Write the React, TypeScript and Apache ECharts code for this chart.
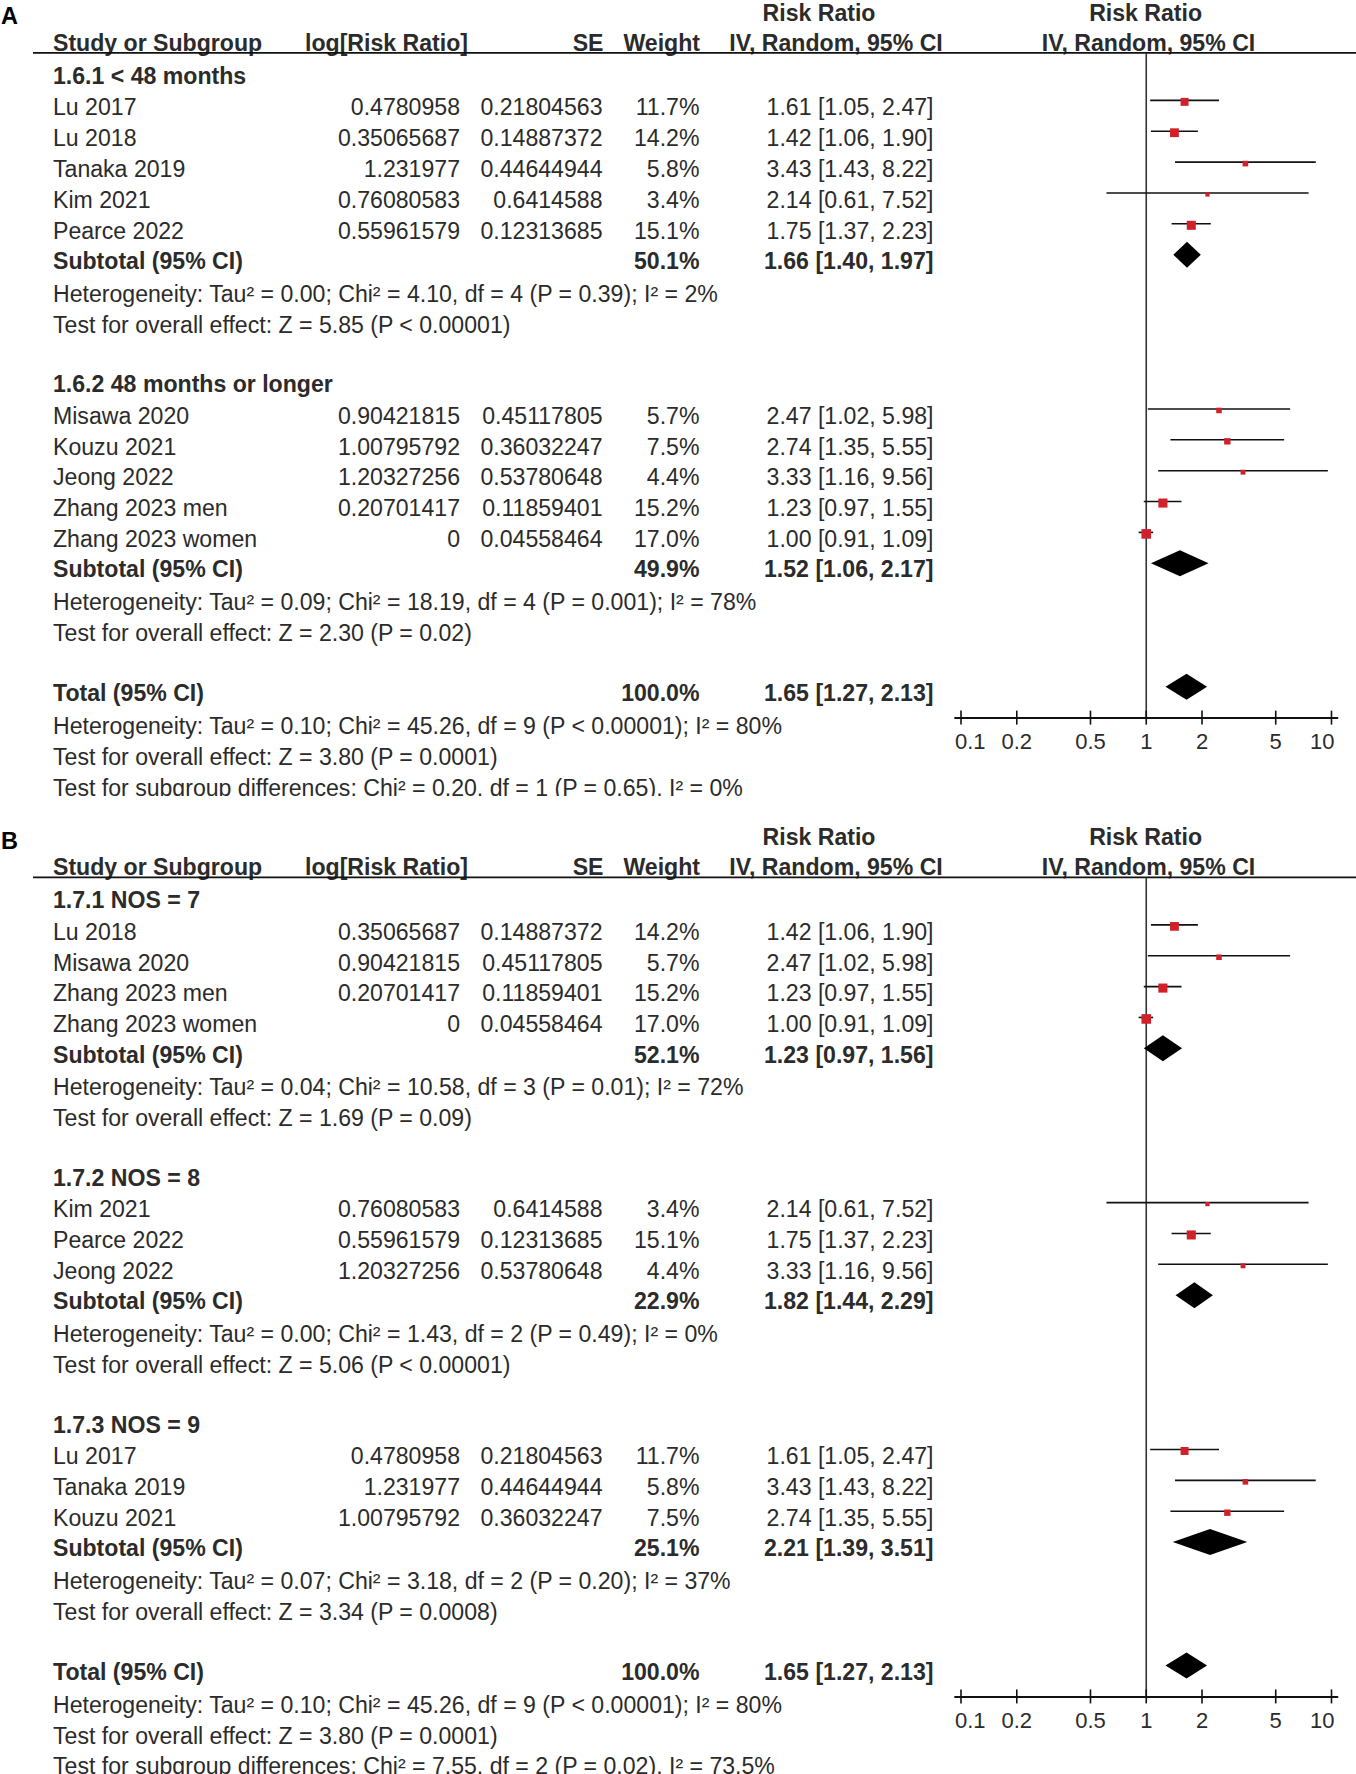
import React, { useEffect, useRef } from "react";
import * as echarts from "echarts";

// ---------- data ----------
const studyNames = [
  "Lu 2017", "Lu 2018", "Tanaka 2019", "Kim 2021", "Pearce 2022",
  "Misawa 2020", "Kouzu 2021", "Jeong 2022", "Zhang 2023 men", "Zhang 2023 women",
];
const logRRText = [
  "0.4780958", "0.35065687", "1.231977", "0.76080583", "0.55961579",
  "0.90421815", "1.00795792", "1.20327256", "0.20701417", "0",
];
const seText = [
  "0.21804563", "0.14887372", "0.44644944", "0.6414588", "0.12313685",
  "0.45117805", "0.36032247", "0.53780648", "0.11859401", "0.04558464",
];
const studyWeights = [11.7, 14.2, 5.8, 3.4, 15.1, 5.7, 7.5, 4.4, 15.2, 17.0];
const studyRR = [1.61, 1.42, 3.43, 2.14, 1.75, 2.47, 2.74, 3.33, 1.23, 1.0];
const studyLo = [1.05, 1.06, 1.43, 0.61, 1.37, 1.02, 1.35, 1.16, 0.97, 0.91];
const studyHi = [2.47, 1.9, 8.22, 7.52, 2.23, 5.98, 5.55, 9.56, 1.55, 1.09];

// Panel A
const groupLabelsA = ["1.6.1 < 48 months", "1.6.2 48 months or longer"];
const groupMembersA = [[0, 1, 2, 3, 4], [5, 6, 7, 8, 9]];
const subWeightsA = [50.1, 49.9];
const subRRA = [1.66, 1.52];
const subLoA = [1.4, 1.06];
const subHiA = [1.97, 2.17];
const hetA = [
  "Heterogeneity: Tau² = 0.00; Chi² = 4.10, df = 4 (P = 0.39); I² = 2%",
  "Heterogeneity: Tau² = 0.09; Chi² = 18.19, df = 4 (P = 0.001); I² = 78%",
];
const testA = [
  "Test for overall effect: Z = 5.85 (P < 0.00001)",
  "Test for overall effect: Z = 2.30 (P = 0.02)",
];
const diffA = "Test for subgroup differences: Chi² = 0.20, df = 1 (P = 0.65), I² = 0%";

// Panel B
const groupLabelsB = ["1.7.1 NOS = 7", "1.7.2 NOS = 8", "1.7.3 NOS = 9"];
const groupMembersB = [[1, 5, 8, 9], [3, 4, 7], [0, 2, 6]];
const subWeightsB = [52.1, 22.9, 25.1];
const subRRB = [1.23, 1.82, 2.21];
const subLoB = [0.97, 1.44, 1.39];
const subHiB = [1.56, 2.29, 3.51];
const hetB = [
  "Heterogeneity: Tau² = 0.04; Chi² = 10.58, df = 3 (P = 0.01); I² = 72%",
  "Heterogeneity: Tau² = 0.00; Chi² = 1.43, df = 2 (P = 0.49); I² = 0%",
  "Heterogeneity: Tau² = 0.07; Chi² = 3.18, df = 2 (P = 0.20); I² = 37%",
];
const testB = [
  "Test for overall effect: Z = 1.69 (P = 0.09)",
  "Test for overall effect: Z = 5.06 (P < 0.00001)",
  "Test for overall effect: Z = 3.34 (P = 0.0008)",
];
const diffB = "Test for subgroup differences: Chi² = 7.55, df = 2 (P = 0.02), I² = 73.5%";

// Overall
const totalWeight = 100.0;
const totalRR = 1.65;
const totalLo = 1.27;
const totalHi = 2.13;
const totalHet = "Heterogeneity: Tau² = 0.10; Chi² = 45.26, df = 9 (P < 0.00001); I² = 80%";
const totalTest = "Test for overall effect: Z = 3.80 (P = 0.0001)";

// Axis ticks
const tickValues = [0.1, 0.2, 0.5, 1, 2, 5, 10];
const tickLabels = ["0.1", "0.2", "0.5", "1", "2", "5", "10"];

// ---------- layout / style ----------
const FONT = '"Liberation Sans", Arial, Helvetica, sans-serif';
const FS = 23.1;
const TEXT = "#2b2b2b";
const RED = "#d0202a";
const PITCH = 30.86;
const Y_MIN = -0.7;
const AXIS_BELOW = 0.84;
const X_LEFT = 955;
const X_RIGHT = 1337.5;
const PAD_DEC = 6 / 185;
const X_MIN = Math.pow(10, -1 - PAD_DEC);
const X_MAX = Math.pow(10, 1 + PAD_DEC);
// vertical text nudges (px) by row kind
const NUDGE: Record<string, number> = { group: 1.2, subtotal: 1.2, total: 1.2, study: 1.8, note: 3.3 };

const COL = {
  name: 53,
  logR: 460,
  seR: 602.5,
  wR: 699.5,
  ciR: 933.5,
  logHeadL: 305,
  seHeadR: 603.5,
  wHeadR: 700,
  rrHeadC: 819,
  ivHeadC: 836,
  plotHead1C: 1145.6,
  plotHead2C: 1148.5,
};

type Row = {
  kind: "group" | "study" | "subtotal" | "note" | "total" | "blank";
  text?: string;
  study?: number;
  w?: number;
  rr?: number;
  lo?: number;
  hi?: number;
};

function buildRows(
  labels: string[], members: number[][], sw: number[], srr: number[], slo: number[], shi: number[],
  het: string[], test: string[], diff: string
): Row[] {
  const rows: Row[] = [];
  labels.forEach((lab, g) => {
    if (g > 0) rows.push({ kind: "blank" });
    rows.push({ kind: "group", text: lab });
    members[g].forEach((s) => rows.push({ kind: "study", study: s }));
    rows.push({ kind: "subtotal", w: sw[g], rr: srr[g], lo: slo[g], hi: shi[g] });
    rows.push({ kind: "note", text: het[g] });
    rows.push({ kind: "note", text: test[g] });
  });
  rows.push({ kind: "blank" });
  rows.push({ kind: "total", w: totalWeight, rr: totalRR, lo: totalLo, hi: totalHi });
  rows.push({ kind: "note", text: totalHet });
  rows.push({ kind: "note", text: totalTest });
  rows.push({ kind: "note", text: diff });
  return rows;
}

const ci = (rr: number, lo: number, hi: number) => `${rr.toFixed(2)} [${lo.toFixed(2)}, ${hi.toFixed(2)}]`;
const pct = (w: number) => `${w.toFixed(1)}%`;

function txt(x: number, y: number, text: string, align: string, bold: boolean, size = FS, color = TEXT) {
  return {
    type: "text",
    x,
    y,
    style: {
      text,
      fill: color,
      fontSize: size,
      fontFamily: FONT,
      fontWeight: bold ? "bold" : "normal",
      align,
      verticalAlign: "middle",
    },
  };
}

function buildPanel(idx: number, label: string, rows: Row[], row0: number) {
  const totalRow = rows.findIndex((r) => r.kind === "total");
  const yMax = totalRow + AXIS_BELOW;
  const top = row0 + Y_MIN * PITCH;
  const height = (yMax - Y_MIN) * PITCH;

  const grid = { left: X_LEFT, top, width: X_RIGHT - X_LEFT, height };
  const xAxis = {
    type: "log",
    logBase: 10,
    gridIndex: idx,
    min: X_MIN,
    max: X_MAX,
    axisLine: { show: true, onZero: false, lineStyle: { color: "#111", width: 1.8 } },
    axisTick: { show: false },
    axisLabel: { show: false },
    splitLine: { show: false },
  };
  const yAxis = {
    type: "value",
    gridIndex: idx,
    inverse: true,
    min: Y_MIN,
    max: yMax,
    show: false,
    splitLine: { show: false },
  };

  type Item = { kind: string; y: number; row?: Row };
  const items: Item[] = [
    { kind: "panel", y: -1.89 },
    { kind: "head1", y: -2 },
    { kind: "head2", y: -1.03 },
    ...rows.map((r, i) => ({ kind: r.kind, y: i, row: r })),
  ];

  const textSeries = {
    type: "custom",
    coordinateSystem: "cartesian2d",
    xAxisIndex: idx,
    yAxisIndex: idx,
    clip: false,
    silent: true,
    data: items.map((it) => [1, it.y]),
    renderItem: (params: any, api: any) => {
      const it = items[params.dataIndex];
      const y = api.coord([1, api.value(1)])[1] + (NUDGE[it.kind] || 0);
      const ch: any[] = [];
      const r = it.row;
      switch (it.kind) {
        case "panel":
          ch.push(txt(1, y, label, "left", true, 23.5, "#000"));
          break;
        case "head1":
          ch.push(txt(COL.rrHeadC, y, "Risk Ratio", "center", true));
          ch.push(txt(COL.plotHead1C, y, "Risk Ratio", "center", true));
          break;
        case "head2":
          ch.push(txt(COL.name, y, "Study or Subgroup", "left", true));
          ch.push(txt(COL.logHeadL, y, "log[Risk Ratio]", "left", true));
          ch.push(txt(COL.seHeadR, y, "SE", "right", true));
          ch.push(txt(COL.wHeadR, y, "Weight", "right", true));
          ch.push(txt(COL.ivHeadC, y, "IV, Random, 95% CI", "center", true));
          ch.push(txt(COL.plotHead2C, y, "IV, Random, 95% CI", "center", true));
          break;
        case "group":
          ch.push(txt(COL.name, y, r!.text!, "left", true));
          break;
        case "study": {
          const s = r!.study!;
          ch.push(txt(COL.name, y, studyNames[s], "left", false));
          ch.push(txt(COL.logR, y, logRRText[s], "right", false));
          ch.push(txt(COL.seR, y, seText[s], "right", false));
          ch.push(txt(COL.wR, y, pct(studyWeights[s]), "right", false));
          ch.push(txt(COL.ciR, y, ci(studyRR[s], studyLo[s], studyHi[s]), "right", false));
          break;
        }
        case "subtotal":
        case "total":
          ch.push(txt(COL.name, y, it.kind === "total" ? "Total (95% CI)" : "Subtotal (95% CI)", "left", true));
          ch.push(txt(COL.wR, y, pct(r!.w!), "right", true));
          ch.push(txt(COL.ciR, y, ci(r!.rr!, r!.lo!, r!.hi!), "right", true));
          break;
        case "note":
          ch.push(txt(COL.name, y, r!.text!, "left", false));
          break;
      }
      return { type: "group", children: ch };
    },
  };

  // forest marks
  const marks: number[][] = [];
  rows.forEach((r, i) => {
    if (r.kind === "study") {
      const s = r.study!;
      marks.push([studyRR[s], i, studyLo[s], studyHi[s], studyWeights[s], 0]);
    } else if (r.kind === "subtotal" || r.kind === "total") {
      marks.push([r.rr!, i, r.lo!, r.hi!, r.w!, 1]);
    }
  });

  const forestSeries = {
    type: "custom",
    coordinateSystem: "cartesian2d",
    xAxisIndex: idx,
    yAxisIndex: idx,
    clip: false,
    silent: true,
    z: 5,
    data: marks,
    renderItem: (params: any, api: any) => {
      const row = api.value(1);
      const pc = api.coord([api.value(0), row]);
      const pl = api.coord([api.value(2), row]);
      const ph = api.coord([api.value(3), row]);
      const w = api.value(4);
      const dia = api.value(5);
      const yl = pc[1] - 5;
      if (dia) {
        return {
          type: "polygon",
          shape: { points: [[pl[0], yl], [pc[0], yl - 13], [ph[0], yl], [pc[0], yl + 13]] },
          style: { fill: "#000" },
        };
      }
      const s = 2.33 * Math.sqrt(w);
      return {
        type: "group",
        children: [
          { type: "line", shape: { x1: pl[0], y1: yl, x2: ph[0], y2: yl }, style: { stroke: "#111", lineWidth: 1.6 } },
          { type: "rect", shape: { x: pc[0] - s / 2, y: yl + 1.5 - s / 2, width: s, height: s }, style: { fill: RED } },
        ],
      };
    },
  };

  const axisSeries = {
    type: "custom",
    coordinateSystem: "cartesian2d",
    xAxisIndex: idx,
    yAxisIndex: idx,
    clip: false,
    silent: true,
    z: 4,
    data: [[1, Y_MIN]],
    renderItem: (params: any, api: any) => {
      const topY = api.coord([1, Y_MIN])[1];
      const botY = api.coord([1, yMax])[1];
      const x1 = api.coord([1, 0])[0];
      const ch: any[] = [
        { type: "line", shape: { x1: 33, y1: topY, x2: 1356, y2: topY }, style: { stroke: "#111", lineWidth: 1.6 } },
        { type: "line", shape: { x1, y1: topY, x2: x1, y2: botY }, style: { stroke: "#333", lineWidth: 1.6 } },
      ];
      tickValues.forEach((v, k) => {
        const x = api.coord([v, yMax])[0];
        ch.push({ type: "line", shape: { x1: x, y1: botY - 7, x2: x, y2: botY + 7 }, style: { stroke: "#111", lineWidth: 1.6 } });
        let align = "center";
        let lx = x;
        if (k === 0) { align = "left"; lx = x - 6; }
        if (k === tickValues.length - 1) { align = "right"; lx = x + 3; }
        ch.push(txt(lx, botY + 24, tickLabels[k], align, false, 22));
      });
      return { type: "group", children: ch };
    },
  };

  return { grid, xAxis, yAxis, series: [axisSeries, forestSeries, textSeries] };
}

function buildOption() {
  const rowsA = buildRows(groupLabelsA, groupMembersA, subWeightsA, subRRA, subLoA, subHiA, hetA, testA, diffA);
  const rowsB = buildRows(groupLabelsB, groupMembersB, subWeightsB, subRRB, subLoB, subHiB, hetB, testB, diffB);
  const pA = buildPanel(0, "A", rowsA, 74.5);
  const pB = buildPanel(1, "B", rowsB, 899);
  return {
    animation: false,
    backgroundColor: "#fff",
    grid: [pA.grid, pB.grid],
    xAxis: [pA.xAxis, pB.xAxis],
    yAxis: [pA.yAxis, pB.yAxis],
    series: [...pA.series, ...pB.series],
    graphic: [
      { type: "rect", z: 100, shape: { x: 0, y: 796, width: 1356, height: 28 }, style: { fill: "#fff" } },
    ],
  };
}

export default function App() {
  const ref = useRef<HTMLDivElement>(null);
  useEffect(() => {
    document.body.style.margin = "0";
    const chart = echarts.init(ref.current!, null, { renderer: "svg" });
    chart.setOption(buildOption() as any);
    return () => chart.dispose();
  }, []);
  return <div ref={ref} style={{ width: 1356, height: 1774 }} />;
}
